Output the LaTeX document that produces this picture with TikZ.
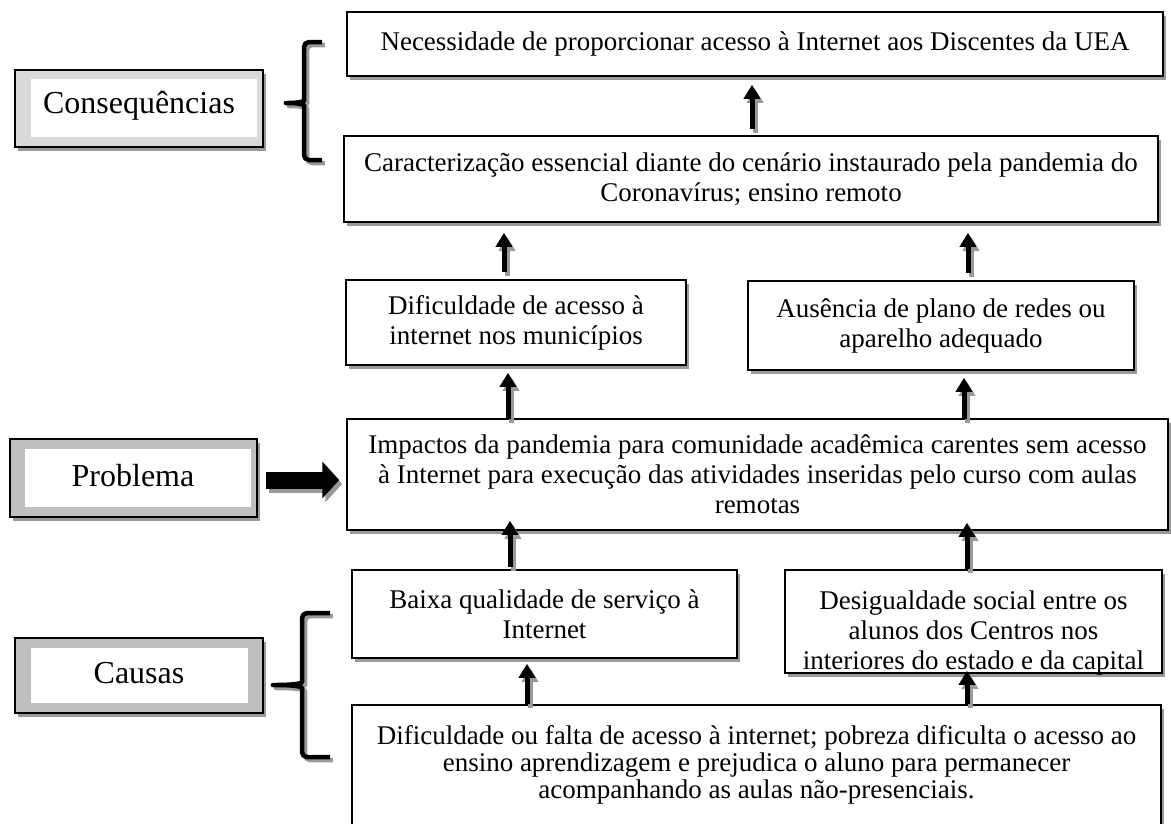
\documentclass[tikz,border=0pt]{standalone}
\usepackage{fontspec}
\setmainfont{Liberation Serif}
\usetikzlibrary{arrows.meta,calc,shadows}

\tikzset{
  box/.style={draw=black, line width=1.5pt, fill=white, inner sep=0pt,
    drop shadow={shadow xshift=3pt, shadow yshift=-4pt, fill=black!40, opacity=1}},
  body/.style={font=\fontsize{27}{30}\selectfont, align=center, inner sep=0pt},
  tagbox/.style={draw=black, line width=1.5pt, inner sep=0pt,
    drop shadow={shadow xshift=3pt, shadow yshift=-4pt, fill=black!40, opacity=1}},
  tagtext/.style={font=\fontsize{32}{36}\selectfont, inner sep=0pt},
  arr/.style={line width=5pt, -{Triangle[width=16pt,length=14pt]}},
  arrshade/.style={arr, draw=black!40, fill=black!40},
  brace/.style={line width=4.5pt, rounded corners=5pt, line join=round},
  braceshade/.style={brace, draw=black!40},
}

% upward arrow with its grey shadow: #1 tail, #2 tip (calc expressions)
\newcommand\liftarrow[2]{%
  \draw[arrshade] ($#1+(3,4)$) -- ($#2+(3,4)$);
  \draw[arr] ($#1$) -- ($#2$);}

\begin{document}
\begin{tikzpicture}[x=1pt,y=-1pt]
\useasboundingbox (0,0) rectangle (1171,823);

% ---- content boxes ----
\node[box, minimum width=816pt, minimum height=64pt]  (nec) at (755,44) {};
\node[box, minimum width=814pt, minimum height=86pt]  (car) at (751,179) {};
\node[box, minimum width=340pt, minimum height=85pt]  (dif) at (516,322.5) {};
\node[box, minimum width=386pt, minimum height=89pt]  (aus) at (941,325.5) {};
\node[box, minimum width=821pt, minimum height=111pt] (imp) at (757.5,474.5) {};
\node[box, minimum width=385pt, minimum height=88pt]  (bai) at (544.5,614) {};
\node[box, minimum width=377pt, minimum height=103pt] (des) at (973.5,621.5) {};
\node[box, minimum width=809pt, minimum height=140pt] (bot) at (756.5,775) {};

\node[body] at (nec.center) {Necessidade de proporcionar acesso à Internet aos Discentes da UEA};
\node[body] at (car.center) {Caracterização essencial diante do cenário instaurado pela pandemia do\\Coronavírus; ensino remoto};
\node[body] at (dif.center) {Dificuldade de acesso à\\internet nos municípios};
\node[body] at (aus.center) {Ausência de plano de redes ou\\aparelho adequado};
\node[body] at (imp.center) {Impactos da pandemia para comunidade acadêmica carentes sem acesso\\à Internet para execução das atividades inseridas pelo curso com aulas\\remotas};
\node[body] at (bai.center) {Baixa qualidade de serviço à\\Internet};
\node[body] at ($(des.center)+(0,11)$) {Desigualdade social entre os\\alunos dos Centros nos\\interiores do estado e da capital};
\node[body, font=\fontsize{27}{27}\selectfont] at (756.5,765) {Dificuldade ou falta de acesso à internet; pobreza dificulta o acesso ao\\ensino aprendizagem e prejudica o aluno para permanecer\\acompanhando as aulas não-presenciais.};

% ---- side tags ----
\node[tagbox, fill=black!15, minimum width=248pt, minimum height=77pt] (cons) at (139,108.5) {};
\fill[white] ($(cons.north west)+(17,10)$) rectangle ($(cons.south east)+(-7,-11)$);
\node[tagtext] at (139,106) {Consequências};

\node[tagbox, fill=black!25, minimum width=247pt, minimum height=78pt] (prob) at (133.5,478) {};
\fill[white] ($(prob.north west)+(16,11)$) rectangle ($(prob.south east)+(-7,-11)$);
\node[tagtext] at (133,476) {Problema};

\node[tagbox, fill=black!25, minimum width=248pt, minimum height=75pt] (caus) at (139,675.5) {};
\fill[white] ($(caus.north west)+(17,11)$) rectangle ($(caus.south east)+(-16,-11)$);
\node[tagtext] at (139,673) {Causas};

% ---- braces ----
\draw[braceshade] (325,45) -- (307,45) -- (307,99) .. controls (307,104) and (303,106) .. (286,106)
  .. controls (303,106) and (307,108) .. (307,113) -- (307,163) -- (325,163);
\draw[brace] (322,42) -- (304,42) -- (304,96) .. controls (304,101) and (300,103) .. (283,103)
  .. controls (300,103) and (304,105) .. (304,110) -- (304,160) -- (322,160);

\draw[braceshade] (333,616) -- (305,616) -- (305,680) .. controls (305,686) and (300,688) .. (273,688)
  .. controls (300,688) and (305,690) .. (305,696) -- (305,760) -- (333,760);
\draw[brace] (330,613) -- (302,613) -- (302,677) .. controls (302,683) and (297,685) .. (270,685)
  .. controls (297,685) and (302,687) .. (302,693) -- (302,757) -- (330,757);

% ---- problem arrow ----
\draw[line width=17pt, draw=black!40, -{Triangle[width=36pt,length=17pt]}]
  ($(prob.east)+(11,6)$) -- ($(imp.west |- prob.east)+(-4,6)$);
\draw[line width=17pt, -{Triangle[width=36pt,length=17pt]}]
  ($(prob.east)+(8,2)$) -- ($(imp.west |- prob.east)+(-7,2)$);

% ---- vertical arrows ----
\liftarrow{(car.north)+(1,-6)}{(nec.south)+(-3,8)}
\liftarrow{(dif.north)+(-12,-7)}{(car.south)+(-247,10)}
\liftarrow{(aus.north)+(27,-7)}{(car.south)+(217,10)}
\liftarrow{(imp.north)+(-249.5,1)}{(dif.south)+(-8,7)}
\liftarrow{(imp.north)+(206.5,1)}{(aus.south)+(23,7)}
\liftarrow{(bai.north)+(-34.5,-2)}{(imp.south)+(-247.5,-10)}
\liftarrow{(des.north)+(-6.5,0)}{(imp.south)+(209.5,-8)}
\liftarrow{(bot.north)+(-229.5,0)}{(bai.south)+(-17.5,5)}
\liftarrow{(bot.north)+(210.5,0)}{(des.south)+(-6.5,-3)}
\end{tikzpicture}
\end{document}
